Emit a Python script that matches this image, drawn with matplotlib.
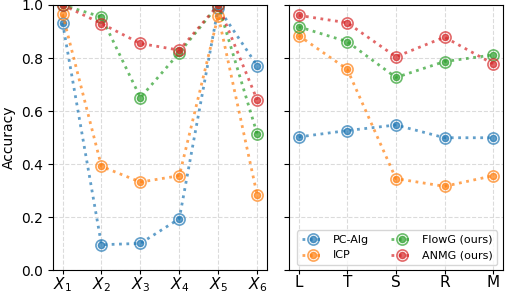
import numpy as np
from matplotlib import pyplot as plt

# left panel: variables X1..X6
vars_left = ['$X_1$', '$X_2$', '$X_3$', '$X_4$', '$X_5$', '$X_6$']
pc_left = [0.933, 0.097, 0.102, 0.195, 0.99, 0.772]
icp_left = [0.965, 0.392, 0.333, 0.357, 0.96, 0.285]
flowg_left = [1.0, 0.955, 0.651, 0.82, 1.0, 0.515]
anmg_left = [1.0, 0.93, 0.855, 0.83, 1.0, 0.643]

# right panel
vars_right = ['L', 'T', 'S', 'R', 'M']
pc_right = [0.503, 0.527, 0.548, 0.50, 0.50]
icp_right = [0.885, 0.758, 0.346, 0.317, 0.357]
flowg_right = [0.918, 0.862, 0.727, 0.787, 0.812]
anmg_right = [0.961, 0.933, 0.805, 0.879, 0.778]

names = ['PC-Alg', 'ICP', 'FlowG (ours)', 'ANMG (ours)']
colors = ['tab:blue', 'tab:orange', 'tab:green', 'tab:red']

fig, axes = plt.subplots(1, 2, figsize=(5.08, 2.94), dpi=100, sharey=True)
plt.subplots_adjust(left=0.104, right=0.99, top=0.983, bottom=0.08, wspace=0.103)

def draw(ax, labels, series):
    x = np.arange(len(labels))
    handles = []
    for vals, c in zip(series, colors):
        l1, = ax.plot(x, vals, ':', color=c, lw=2, alpha=0.7,
                      marker='o', ms=8, mfc='none', mec=c, mew=1.2)
        l2, = ax.plot(x, vals, ls='none', color=c, alpha=0.7,
                      marker='o', ms=4.5)
        handles.append((l1, l2))
    ax.set_xticks(x)
    ax.set_xticklabels(labels, fontsize=11)
    ax.tick_params(axis='x', pad=0.5, length=3)
    ax.grid(True, ls='--', color='lightgray', alpha=0.8)
    ax.set_ylim(0, 1.0)
    return handles

draw(axes[0], vars_left, [pc_left, icp_left, flowg_left, anmg_left])
hs = draw(axes[1], vars_right, [pc_right, icp_right, flowg_right, anmg_right])

axes[0].set_ylabel('Accuracy', fontsize=10)
axes[0].tick_params(axis='y', labelsize=10)
axes[1].legend(hs, names, ncol=2, loc='lower right', fontsize=8)

plt.savefig('out.png')
